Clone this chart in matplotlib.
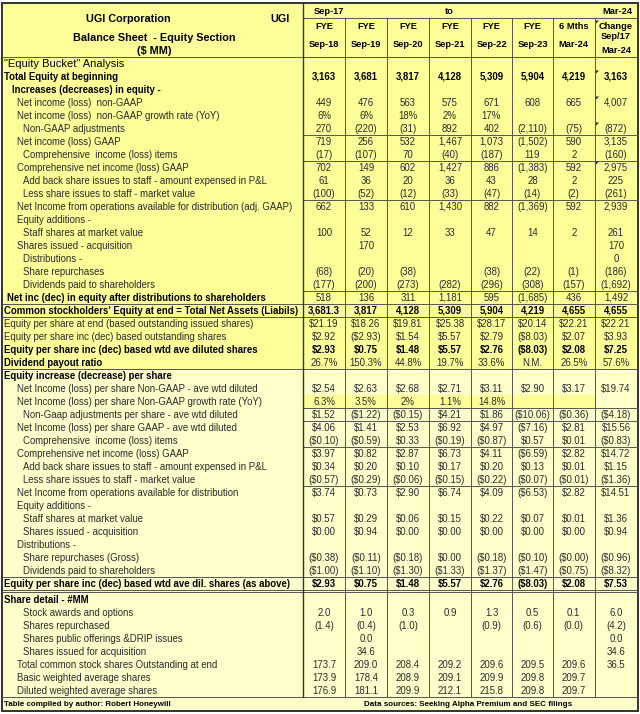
import matplotlib
matplotlib.use("Agg")
import matplotlib.pyplot as plt
from matplotlib import font_manager as fm
from matplotlib.patches import Rectangle, Polygon

# ---- data (as printed in the table) ----
col_top = ["FYE", "FYE", "FYE", "FYE", "FYE", "FYE", "6 Mths", "Change"]
col_bottom = ["Sep-18", "Sep-19", "Sep-20", "Sep-21", "Sep-22", "Sep-23", "Mar-24", ""]

bucket_labels = [
    '"Equity Bucket" Analysis',
    "Total Equity at beginning",
    "Increases (decreases) in equity -",
    "Net income (loss)  non-GAAP",
    "Net income (loss)  non-GAAP growth rate (YoY)",
    "Non-GAAP adjustments",
    "Net income (loss) GAAP",
    "Comprehensive  income (loss) items",
    "Comprehensive net income (loss) GAAP",
    "Add back share issues to staff - amount expensed in P&L",
    "Less share issues to staff - market value",
    "Net Income from operations available for distribution (adj. GAAP)",
    "Equity additions -",
    "Staff shares at market value",
    "Shares issued - acquisition",
    "Distributions -",
    "Share repurchases",
    "Dividends paid to shareholders",
    "Net inc (dec) in equity after distributions to shareholders",
    "Common stockholders' Equity at end = Total Net Assets (Liabils)",
    "Equity per share at end (based outstanding issued shares)",
    "Equity per share inc (dec) based outstanding shares",
    "Equity per share inc (dec) based wtd ave diluted shares",
    "Dividend payout ratio",
]
bucket_values = [
    [],
    ["3,163", "3,681", "3,817", "4,128", "5,309", "5,904", "4,219", "3,163"],
    [],
    ["449", "476", "563", "575", "671", "608", "665", "4,007"],
    ["6%", "6%", "18%", "2%", "17%", "", "", ""],
    ["270", "(220)", "(31)", "892", "402", "(2,110)", "(75)", "(872)"],
    ["719", "256", "532", "1,467", "1,073", "(1,502)", "590", "3,135"],
    ["(17)", "(107)", "70", "(40)", "(187)", "119", "2", "(160)"],
    ["702", "149", "602", "1,427", "886", "(1,383)", "592", "2,975"],
    ["61", "36", "20", "36", "43", "28", "2", "225"],
    ["(100)", "(52)", "(12)", "(33)", "(47)", "(14)", "(2)", "(261)"],
    ["662", "133", "610", "1,430", "882", "(1,369)", "592", "2,939"],
    [],
    ["100", "52", "12", "33", "47", "14", "2", "261"],
    ["", "170", "", "", "", "", "", "170"],
    ["", "", "", "", "", "", "", "0"],
    ["(68)", "(20)", "(38)", "", "(38)", "(22)", "(1)", "(186)"],
    ["(177)", "(200)", "(273)", "(282)", "(296)", "(308)", "(157)", "(1,692)"],
    ["518", "136", "311", "1,181", "595", "(1,685)", "436", "1,492"],
    ["3,681.3", "3,817", "4,128", "5,309", "5,904", "4,219", "4,655", "4,655"],
    ["$21.19", "$18.26", "$19.81", "$25.38", "$28.17", "$20.14", "$22.21", "$22.21"],
    ["$2.92", "($2.93)", "$1.54", "$5.57", "$2.79", "($8.03)", "$2.07", "$3.93"],
    ["$2.93", "$0.75", "$1.48", "$5.57", "$2.76", "($8.03)", "$2.08", "$7.25"],
    ["26.7%", "150.3%", "44.8%", "19.7%", "33.6%", "N.M.", "26.5%", "57.6%"],
]

per_share_labels = [
    "Equity increase (decrease) per share",
    "Net Income (loss) per share Non-GAAP - ave wtd diluted",
    "Net Income (loss) per share Non-GAAP growth rate (YoY)",
    "Non-Gaap adjustments per share - ave wtd diluted",
    "Net Income (loss) per share GAAP - ave wtd diluted",
    "Comprehensive  income (loss) items",
    "Comprehensive net income (loss) GAAP",
    "Add back share issues to staff - amount expensed in P&L",
    "Less share issues to staff - market value",
    "Net Income from operations available for distribution",
    "Equity additions -",
    "Staff shares at market value",
    "Shares issued - acquisition",
    "Distributions -",
    "Share repurchases (Gross)",
    "Dividends paid to shareholders",
    "Equity per share inc (dec) based wtd ave dil. shares (as above)",
]
per_share_values = [
    [],
    ["$2.54", "$2.63", "$2.68", "$2.71", "$3.11", "$2.90", "$3.17", "$19.74"],
    ["6.3%", "3.5%", "2%", "1.1%", "14.8%", "", "", ""],
    ["$1.52", "($1.22)", "($0.15)", "$4.21", "$1.86", "($10.06)", "($0.36)", "($4.18)"],
    ["$4.06", "$1.41", "$2.53", "$6.92", "$4.97", "($7.16)", "$2.81", "$15.56"],
    ["($0.10)", "($0.59)", "$0.33", "($0.19)", "($0.87)", "$0.57", "$0.01", "($0.83)"],
    ["$3.97", "$0.82", "$2.87", "$6.73", "$4.11", "($6.59)", "$2.82", "$14.72"],
    ["$0.34", "$0.20", "$0.10", "$0.17", "$0.20", "$0.13", "$0.01", "$1.15"],
    ["($0.57)", "($0.29)", "($0.06)", "($0.15)", "($0.22)", "($0.07)", "($0.01)", "($1.36)"],
    ["$3.74", "$0.73", "$2.90", "$6.74", "$4.09", "($6.53)", "$2.82", "$14.51"],
    [],
    ["$0.57", "$0.29", "$0.06", "$0.15", "$0.22", "$0.07", "$0.01", "$1.36"],
    ["$0.00", "$0.94", "$0.00", "$0.00", "$0.00", "$0.00", "$0.00", "$0.94"],
    [],
    ["($0.38)", "($0.11)", "($0.18)", "$0.00", "($0.18)", "($0.10)", "($0.00)", "($0.96)"],
    ["($1.00)", "($1.10)", "($1.30)", "($1.33)", "($1.37)", "($1.47)", "($0.75)", "($8.32)"],
    ["$2.93", "$0.75", "$1.48", "$5.57", "$2.76", "($8.03)", "$2.08", "$7.53"],
]

share_labels = [
    "Share detail - #MM",
    "Stock awards and options",
    "Shares repurchased",
    "Shares public offerings &DRIP issues",
    "Shares issued for acquisition",
    "Total common stock shares Outstanding at end",
    "Basic weighted average shares",
    "Diluted weighted average shares",
]
share_values = [
    [],
    ["2.0", "1.0", "0.3", "0.9", "1.3", "0.5", "0.1", "6.0"],
    ["(1.4)", "(0.4)", "(1.0)", "", "(0.9)", "(0.6)", "(0.0)", "(4.2)"],
    ["", "0.0", "", "", "", "", "", "0.0"],
    ["", "34.6", "", "", "", "", "", "34.6"],
    ["173.7", "209.0", "208.4", "209.2", "209.6", "209.5", "209.6", "36.5"],
    ["173.9", "178.4", "208.9", "209.1", "209.9", "209.8", "209.7", ""],
    ["176.9", "181.1", "209.9", "212.1", "215.8", "209.8", "209.7", ""],
]

# ---- styling / layout ----
bucket_indent = [0, 0, 1, 2, 2, 3, 2, 3, 2, 3, 3, 2, 2, 3, 2, 3, 3, 3, 4, 0, 0, 0, 0, 0]
bucket_bold_lab = {1, 2, 18, 19, 22, 23}
bucket_bold_val = {1, 19, 22}
ps_indent = [0, 2, 2, 3, 2, 3, 2, 3, 3, 2, 2, 3, 3, 2, 3, 3, 0]
ps_bold_lab = {0, 16}
ps_bold_val = {16}
sh_indent = [0, 3, 3, 3, 3, 2, 2, 2]

names = {f.name for f in fm.fontManager.ttflist}
if "Liberation Sans Narrow" in names:
    FONT, FS = "Liberation Sans Narrow", 8.2
else:
    FONT, FS = "Liberation Sans", 6.9
plt.rcParams["font.family"] = [FONT, "DejaVu Sans"]
HFS = FS + 0.9      # header text, label side
CFS = FS - 0.2      # header text, column side
FFS = 5.8           # footer text
BASE = 3.4          # baseline offset below row centre

YEL = "#FFFF99"
PALE = "#FFFFCC"
GRID = "#555555"
TXT = "#2a2a2a"
indent_x = {0: 4, 1: 11.5, 2: 17, 3: 23, 4: 7}

edges = [303, 345, 387, 429, 471, 512, 553, 594.5, 637.5]
centers = [(a + b) / 2 for a, b in zip(edges[:-1], edges[1:])]
LEFT, RIGHT, TOP, BOT = 2, 637.5, 2.5, 710.5
y0, h = 56.5, 13.0
y3 = 593.0

fig = plt.figure(figsize=(6.4, 7.14), dpi=100)
ax = fig.add_axes([0, 0, 1, 1])
ax.set_xlim(0, 640)
ax.set_ylim(714, 0)
ax.axis("off")


def put(x, y, s, bold=False, ha="left", size=FS, color=None):
    # y is the visual centre of a line of text; place on a common baseline
    ax.text(x, y + BASE * size / FS, s, ha=ha, va="baseline", fontsize=size,
            fontweight="bold" if bold else "normal",
            color=color or ("black" if bold else TXT), parse_math=False)


# backgrounds
ax.add_patch(Rectangle((LEFT, TOP), RIGHT - LEFT, y0 + 24 * h - TOP, color=YEL, lw=0))
ax.add_patch(Rectangle((LEFT, y0 + 24 * h), RIGHT - LEFT, BOT - (y0 + 24 * h), color=PALE, lw=0))
ax.add_patch(Rectangle((edges[0], y0 + 26 * h), edges[7] - edges[0], h, color=YEL, lw=0))

# header
put(128, 18, "UGI Corporation", bold=True, ha="center", size=HFS)
put(280, 18, "UGI", bold=True, ha="center", size=HFS)
put(154, 37.5, "Balance Sheet  - Equity Section", bold=True, ha="center", size=HFS)
put(154, 50, "($ MM)", bold=True, ha="center", size=HFS)
put(329, 10.5, "Sep-17", bold=True, ha="center", size=CFS)
put(449, 10.5, "to", bold=True, ha="center", size=CFS)
put(632, 10.5, "Mar-24", bold=True, ha="right", size=CFS)
for i, c in enumerate(centers):
    put(c, 26, col_top[i], bold=True, ha="center", size=CFS)
    if col_bottom[i]:
        put(c, 44, col_bottom[i], bold=True, ha="center", size=CFS)
put(centers[7], 35.5, "Sep/17", bold=True, ha="center", size=CFS)
put(centers[7], 49.5, "Mar-24", bold=True, ha="center", size=CFS)


def draw_rows(labels, values, indent, bold_lab, bold_val, top):
    for i, lab in enumerate(labels):
        yc = top + h * i + h / 2 + 0.3
        put(indent_x[indent[i]], yc, lab, bold=i in bold_lab)
        for j, v in enumerate(values[i]):
            if v:
                put(centers[j], yc, v, bold=i in bold_val, ha="center")


# title row of the bucket section is drawn larger
put(4, y0 + h / 2, bucket_labels[0], size=FS + 1.1, color="black")
draw_rows(bucket_labels[1:], bucket_values[1:], bucket_indent[1:],
          {i - 1 for i in bucket_bold_lab}, {i - 1 for i in bucket_bold_val}, y0 + h)
draw_rows(per_share_labels, per_share_values, ps_indent, ps_bold_lab, ps_bold_val, y0 + 24 * h)
draw_rows(share_labels, share_values, sh_indent, {0}, set(), y3)

# footer
put(4, 703.5, "Table compiled by author: Robert Honeywill", bold=True, size=FFS, color="black")
put(364, 703.5, "Data sources: Seeking Alpha Premium and SEC filings", bold=True, size=FFS, color="black")


# grid lines
def hline(y, x0=edges[0], x1=RIGHT, lw=0.7):
    ax.plot([x0, x1], [y, y], color=GRID, lw=lw, solid_capstyle="butt")


hline(18.3)
hline(y0, LEFT)
for r in (6, 8, 11, 18, 27, 28, 30, 33):
    hline(y0 + r * h)
for r in (19, 20, 24, 40):
    hline(y0 + r * h, LEFT)
hline(y0 + 41 * h, LEFT)
hline(y0 + 41 * h + 2.6, LEFT)
hline(697, LEFT)
for x in edges[1:-1]:
    ax.plot([x, x], [18.3, 697], color=GRID, lw=0.7)
ax.plot([edges[0], edges[0]], [TOP, 697], color="#333333", lw=1.0)
ax.add_patch(Rectangle((LEFT, TOP), RIGHT - LEFT, BOT - TOP, fill=False, ec="#333333", lw=1.4))

# comment markers in the Change column
for yy in (19.5, y0 + h, y0 + 3 * h, y0 + 5 * h, y0 + 8 * h):
    x = edges[7] + 1
    ax.add_patch(Polygon([[x, yy + 1], [x + 3.5, yy + 1], [x, yy + 4.5]], closed=True, color="#222222", lw=0))

fig.savefig("out.png", dpi=100, facecolor="white")
